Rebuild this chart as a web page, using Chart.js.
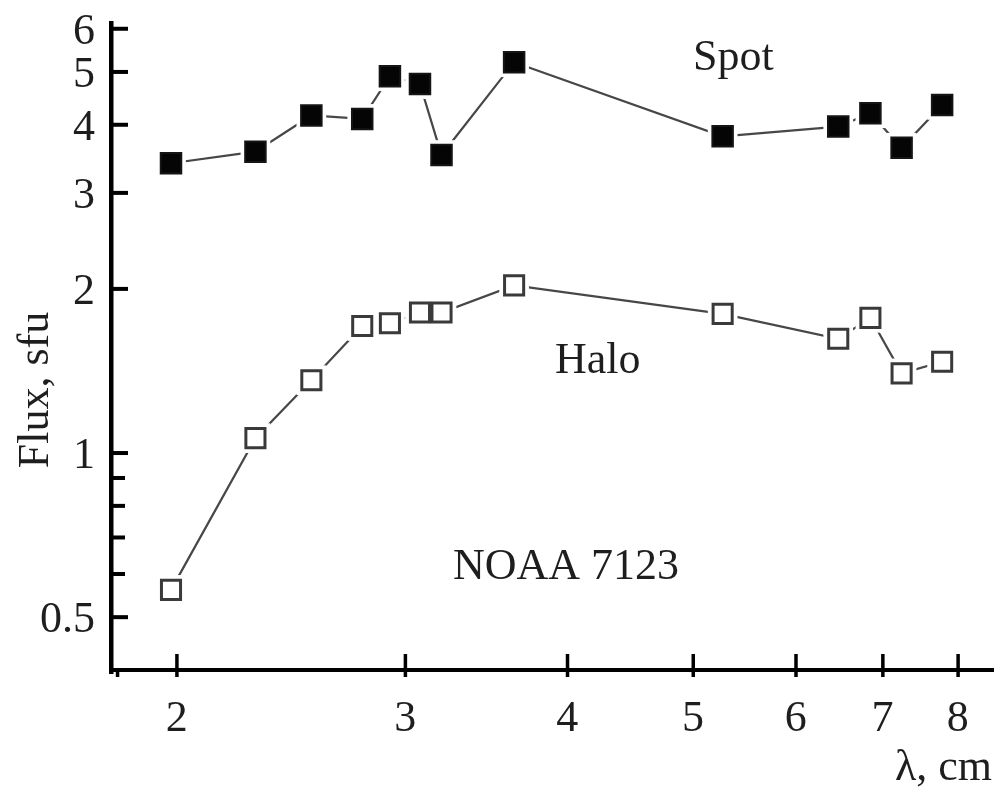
<!DOCTYPE html>
<html>
<head>
<meta charset="utf-8">
<script src="https://cdn.jsdelivr.net/npm/chart.js@4/dist/chart.umd.min.js"></script>
<style>
  html, body { margin: 0; padding: 0; background: #fff; }
  #wrap { position: relative; width: 994px; height: 788px; }
</style>
</head>
<body>
<div id="wrap"><canvas id="chart" width="994" height="788"></canvas></div>
<script>
// wavelengths, cm (shared by both series)
const wavelengths = [1.98, 2.30, 2.54, 2.78, 2.92, 3.08, 3.20, 3.64, 5.27, 6.47, 6.85, 7.24, 7.78];
// flux, sfu
const spotFlux = [3.40, 3.57, 4.16, 4.10, 4.91, 4.75, 3.52, 5.21, 3.81, 3.97, 4.20, 3.63, 4.35];
const haloFlux = [0.561, 1.065, 1.36, 1.71, 1.73, 1.81, 1.81, 2.03, 1.80, 1.62, 1.77, 1.40, 1.47];

const xTicks = [2, 3, 4, 5, 6, 7, 8];
const xMinorTicks = [1.8];
const yTicks = [0.5, 1, 2, 3, 4, 5, 6];
const yMinorTicks = [0.6, 0.7, 0.8, 0.9];

const FONT = '"Liberation Serif", "Times New Roman", serif';
const INK = '#1e1e1e';

const toPoints = (ys) => wavelengths.map((x, i) => ({ x: x, y: ys[i] }));

function seriesSets(ys, filled) {
    const pts = toPoints(ys);
    return [
        { data: pts, showLine: true, borderColor: '#474747', borderWidth: 2.2, pointRadius: 0, order: 3 },
        // white mask so the line stops short of each marker
        { data: pts, showLine: false, pointStyle: 'rect', pointRadius: 21, backgroundColor: '#fff', borderWidth: 0, order: 2 },
        filled
            ? { data: pts, showLine: false, pointStyle: 'rect', pointRadius: 14.5, backgroundColor: '#050505', borderColor: '#151515', borderWidth: 2, order: 1 }
            : { data: pts, showLine: false, pointStyle: 'rect', pointRadius: 13.5, backgroundColor: '#fff', borderColor: '#3a3a3a', borderWidth: 3, order: 1 }
    ];
}

// axes with inward ticks, tick labels and annotations
const axesPlugin = {
    id: 'axesPlugin',
    afterDatasetsDraw(chart) {
        const ctx = chart.ctx;
        const x = chart.scales.x, y = chart.scales.y;
        const a = chart.chartArea;
        ctx.save();
        ctx.fillStyle = '#000';
        // spines
        ctx.fillRect(a.left - 2, a.top, 4.5, a.bottom - a.top + 4);
        ctx.fillRect(a.left - 2, a.bottom - 2, a.right - a.left + 2, 4);
        // y ticks
        yTicks.forEach(v => {
            const py = y.getPixelForValue(v);
            ctx.fillRect(a.left, py - 2, 17, 4);
        });
        yMinorTicks.forEach(v => {
            const py = y.getPixelForValue(v);
            ctx.fillRect(a.left, py - 2, 14, 4);
        });
        // x ticks
        xTicks.forEach(v => {
            const px = x.getPixelForValue(v);
            ctx.fillRect(px - 1.5, a.bottom - 16, 3.5, 23);
        });
        xMinorTicks.forEach(v => {
            const px = x.getPixelForValue(v);
            ctx.fillRect(px - 1.5, a.bottom, 3.5, 7);
        });

        ctx.fillStyle = INK;
        ctx.font = '44px ' + FONT;
        ctx.textBaseline = 'alphabetic';

        // tick labels
        ctx.textAlign = 'center';
        xTicks.forEach(v => ctx.fillText(String(v), x.getPixelForValue(v), 731));
        ctx.textAlign = 'right';
        yTicks.forEach(v => ctx.fillText(String(v), 95, y.getPixelForValue(v) + 15));

        // annotations
        ctx.textAlign = 'left';
        ctx.fillText('Spot', 693, 70);
        ctx.fillText('Halo', 555, 373);
        ctx.fillText('NOAA 7123', 453, 579);
        ctx.textAlign = 'right';
        ctx.fillText('λ, cm', 992, 780);

        ctx.translate(48, 390);
        ctx.rotate(-Math.PI / 2);
        ctx.textAlign = 'center';
        ctx.fillText('Flux, sfu', 0, 0);
        ctx.restore();
    }
};

new Chart(document.getElementById('chart'), {
    type: 'line',
    data: {
        datasets: [...seriesSets(spotFlux, true), ...seriesSets(haloFlux, false)]
    },
    options: {
        responsive: false,
        animation: false,
        events: [],
        layout: { autoPadding: false, padding: { top: 21, right: 0, bottom: 0, left: 0 } },
        plugins: { legend: { display: false }, tooltip: { enabled: false } },
        scales: {
            x: {
                type: 'logarithmic',
                min: 1.78,
                max: 8.53,
                grid: { display: false, drawTicks: false },
                border: { display: false },
                ticks: { display: false },
                afterBuildTicks: (s) => { s.ticks = xTicks.map(v => ({ value: v })); },
                afterFit: (s) => { s.height = 118; s.paddingLeft = 0; s.paddingRight = 0; }
            },
            y: {
                type: 'logarithmic',
                min: 0.4,
                max: 6.2,
                grid: { display: false, drawTicks: false },
                border: { display: false },
                ticks: { display: false },
                afterBuildTicks: (s) => { s.ticks = yTicks.map(v => ({ value: v })); },
                afterFit: (s) => { s.width = 111; s.paddingTop = 0; s.paddingBottom = 0; }
            }
        }
    },
    plugins: [axesPlugin]
});
</script>
</body>
</html>
